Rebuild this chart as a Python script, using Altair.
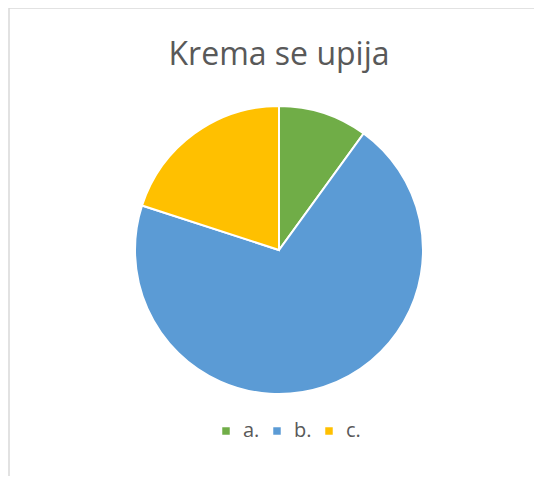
import altair as alt
import pandas as pd

categories = ["a.", "b.", "c."]
values = [10, 70, 20]
colors = ["#70AD47", "#5B9BD5", "#FFC000"]
title_text = "Krema se upija"

W, H = 526, 468
df = pd.DataFrame({"cat": categories, "val": values, "ord": [0, 1, 2]})

base = alt.Chart(df)

pie = base.mark_arc(outerRadius=144, stroke="white", strokeWidth=2).encode(
    theta=alt.Theta("val:Q", stack=True),
    order=alt.Order("ord:Q"),
    x=alt.value(271),
    y=alt.value(242),
    color=alt.Color(
        "cat:N",
        scale=alt.Scale(domain=categories, range=colors),
        legend=alt.Legend(
            title=None,
            orient="none",
            direction="horizontal",
            legendX=208,
            legendY=413,
            symbolType="square",
            symbolSize=56,
            symbolStrokeWidth=0,
            labelFontSize=20,
            labelFont="Open Sans",
            labelColor="#595959",
            columnPadding=7,
            labelOffset=7,
        ),
    ),
)

title = alt.Chart(pd.DataFrame({"t": [title_text]})).mark_text(
    fontSize=32, font="Open Sans", color="#595959", baseline="alphabetic"
).encode(text="t:N", x=alt.value(271), y=alt.value(57))

border = alt.Chart(pd.DataFrame({"k": [0]})).mark_rule(color="#d9d9d9", strokeWidth=1.5)
left_line = border.encode(x=alt.value(1), y=alt.value(0), y2=alt.value(H))
top_line = border.encode(y=alt.value(0), x=alt.value(1), x2=alt.value(W))

chart = alt.layer(left_line, top_line, pie, title).properties(
    width=W, height=H, padding=0, autosize=alt.AutoSizeParams(type="none")
).configure_view(stroke=None)

chart.save("out.html", embed_options={"renderer": "svg", "actions": False})
